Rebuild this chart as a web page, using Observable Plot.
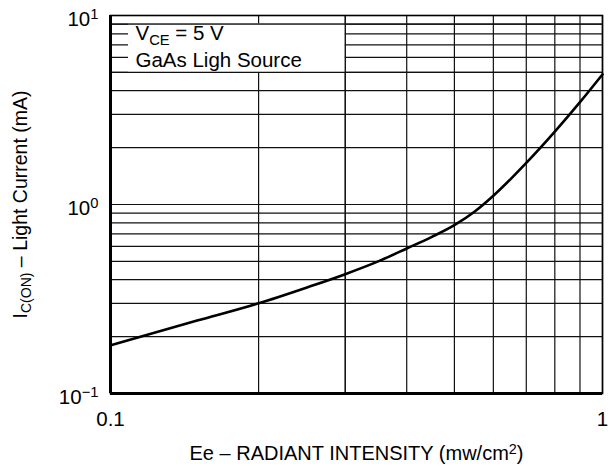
<!DOCTYPE html>
<html><head><meta charset="utf-8">
<script src="https://cdn.jsdelivr.net/npm/d3@7"></script>
<script src="https://cdn.jsdelivr.net/npm/@observablehq/plot@0.6"></script>
<style>
body{margin:0;background:#fff;}
#chart{width:610px;height:465px;}
</style></head><body><div id="chart"></div>
<script>
// Data
const intensity = [0.1, 0.15, 0.2, 0.25, 0.3, 0.35, 0.4, 0.45, 0.5, 0.55, 0.6, 0.7, 0.8, 0.9, 1.0];
const current   = [0.18, 0.243, 0.30, 0.363, 0.428, 0.50, 0.585, 0.674, 0.777, 0.918, 1.112, 1.66, 2.43, 3.48, 4.88];

const xGrid = [0.1, 0.2, 0.3, 0.4, 0.5, 0.6, 0.7, 0.8, 0.9, 1];
const yGrid = [0.1, 0.2, 0.3, 0.4, 0.5, 0.6, 0.7, 0.8, 0.9, 1, 2, 3, 4, 5, 6, 7, 8, 9, 10];
const xTicks = [0.1, 1];
const xTickLabels = ["0.1", "1"];
const yTicks = [0.1, 1, 10];
const yTickLabels = ["10^{−1}", "10^{0}", "10^{1}"];

const xLabel = "Ee – RADIANT INTENSITY (mw/cm^{2})";
const yLabel = "I_{C(ON)} – Light Current (mA)";

const legendLines = ["V_{CE} = 5 V", "GaAs Ligh Source"];
const legendLineY = [8.0, 5.75];
const legendBox = [{x1: 0.1088, x2: 0.3, y1: 5, y2: 9}];
const legendTextX = 0.1124;

const data = intensity.map((x, i) => ({x, y: current[i]}));
const FONT = "'Liberation Sans', Arial, Helvetica, sans-serif";

const chart = Plot.plot({
  width: 610, height: 465,
  marginLeft: 110, marginRight: 8, marginTop: 15, marginBottom: 72,
  x: {type: "log", domain: [0.1, 1], axis: null},
  y: {type: "log", domain: [0.1, 10], axis: null},
  style: {fontFamily: FONT, background: "white", color: "black"},
  marks: [
    Plot.ruleX(xGrid, {stroke: "#111", strokeWidth: 1.2}),
    Plot.ruleY(yGrid, {stroke: "#111", strokeWidth: 1.2}),
    Plot.rect(legendBox, {x1: "x1", x2: "x2", y1: "y1", y2: "y2", fill: "white"}),
    Plot.ruleY([5, 9], {stroke: "#111", strokeWidth: 1.2}),
    Plot.ruleX([0.3], {stroke: "#111", strokeWidth: 1.2}),
    Plot.frame({stroke: "black", strokeWidth: 1.6}),
    Plot.ruleX([0.1], {stroke: "black", strokeWidth: 3}),
    Plot.ruleY([0.1], {stroke: "black", strokeWidth: 3}),
    Plot.line(data, {x: "x", y: "y", curve: "monotone-x", stroke: "black", strokeWidth: 2.6}),
    Plot.text(yTicks, {x: 0.1, y: d => d, text: (d, i) => yTickLabels[i], textAnchor: "end", dx: -12, dy: 4, fontSize: 20.5}),
    Plot.text(xTicks, {x: d => d, y: 0.1, text: (d, i) => xTickLabels[i], dy: 26, fontSize: 20.5}),
    Plot.text(legendLines, {x: legendTextX, y: (d, i) => legendLineY[i], text: d => d, textAnchor: "start", fontSize: 20.5}),
    Plot.text([xLabel], {frameAnchor: "bottom", text: d => d, dy: 66, fontSize: 20}),
    Plot.text([yLabel], {frameAnchor: "left", textAnchor: "middle", text: d => d, rotate: -90, dx: -90, fontSize: 19.5})
  ]
});

// Turn ^{..} and _{..} markup into real super/subscript tspans
function richText(svg) {
  d3.select(svg).selectAll("text").each(function () {
    const el = this;
    const s = el.textContent;
    if (!/[_^]\{/.test(s)) return;
    const parts = [];
    const re = /([_^])\{([^}]*)\}/g;
    let last = 0, m;
    while ((m = re.exec(s))) {
      if (m.index > last) parts.push({t: s.slice(last, m.index)});
      parts.push({t: m[2], k: m[1]});
      last = re.lastIndex;
    }
    if (last < s.length) parts.push({t: s.slice(last)});
    while (el.firstChild) el.removeChild(el.firstChild);
    for (const p of parts) {
      const ts = document.createElementNS("http://www.w3.org/2000/svg", "tspan");
      ts.textContent = p.t;
      if (p.k) {
        ts.setAttribute("font-size", "72%");
        ts.setAttribute("baseline-shift", p.k === "^" ? "45%" : "-30%");
      }
      el.appendChild(ts);
    }
  });
}
richText(chart);
document.getElementById("chart").appendChild(chart);
</script></body></html>
